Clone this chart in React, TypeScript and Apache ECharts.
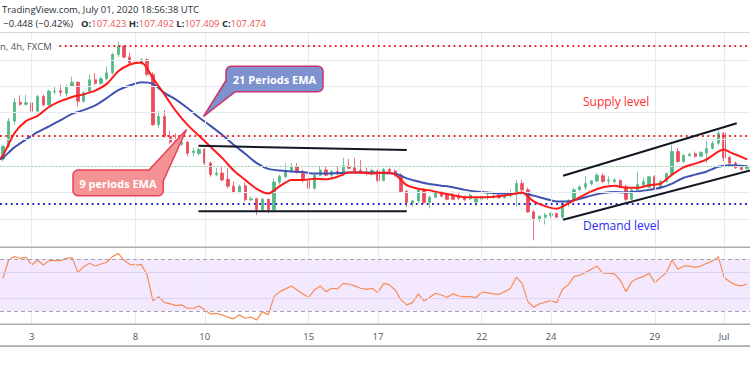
import React, { useEffect, useRef } from "react";
import * as echarts from "echarts";

const FONT = "'Open Sans', 'Noto Sans', sans-serif";

// x-axis day labels and the bar index where each trading day starts (4h bars)
const dayLabels = ["3", "8", "10", "15", "17", "22", "24", "29", "Jul"];
const dayLabelIndex = [5, 23, 35, 53, 65, 83, 95, 113, 125];

// 4h candles (USD/JPY, FXCM)
const open = [
  107.61, 107.85, 108.33, 108.69, 108.65, 108.68, 108.52, 108.80, 108.64, 108.89,
  108.91, 108.86, 109.00, 109.07, 108.71, 108.90, 109.12, 109.05, 109.14, 109.25,
  109.60, 109.76, 109.55, 109.46, 109.43, 109.50, 109.22, 108.26, 108.42, 108.04,
  107.95, 107.89, 107.93, 107.73, 107.71, 107.79, 107.53, 107.31, 107.34, 107.22,
  107.09, 106.97, 107.10, 106.83, 106.85, 106.64, 106.84, 106.64, 107.17, 107.27,
  107.38, 107.46, 107.33, 107.20, 107.05, 107.30, 107.40, 107.30, 107.37, 107.32,
  107.47, 107.44, 107.39, 107.36, 107.33, 107.38, 107.20, 107.41, 107.38, 107.30,
  106.99, 106.77, 106.81, 107.02, 106.78, 106.88, 106.97, 106.93, 106.92, 106.90,
  106.88, 106.85, 106.79, 106.84, 106.89, 106.89, 106.91, 106.87, 106.91, 106.97,
  107.14, 107.02, 106.60, 106.46, 106.50, 106.53, 106.57, 106.50, 106.76, 106.82,
  107.02, 107.07, 107.13, 107.19, 107.29, 107.19, 107.18, 107.20, 107.08, 106.84,
  107.02, 107.11, 107.07, 107.27, 107.06, 107.18, 107.32, 107.75, 107.56, 107.67,
  107.71, 107.66, 107.72, 107.81, 107.91, 108.10, 107.64, 107.53, 107.45, 107.423,
];
const close = [
  107.85, 108.33, 108.69, 108.65, 108.68, 108.52, 108.80, 108.64, 108.90, 108.90,
  108.88, 108.99, 109.07, 108.71, 108.87, 109.12, 109.05, 109.14, 109.25, 109.60,
  109.76, 109.55, 109.44, 109.43, 109.50, 109.22, 108.26, 108.42, 108.04, 107.93,
  107.91, 107.93, 107.72, 107.76, 107.79, 107.53, 107.31, 107.34, 107.21, 107.09,
  106.97, 107.09, 106.83, 106.85, 106.64, 106.84, 106.64, 107.17, 107.28, 107.38,
  107.46, 107.35, 107.20, 107.05, 107.30, 107.40, 107.30, 107.37, 107.32, 107.48,
  107.43, 107.38, 107.35, 107.34, 107.39, 107.20, 107.41, 107.37, 107.29, 106.99,
  106.78, 106.81, 107.02, 106.78, 106.88, 106.96, 106.90, 106.84, 106.84, 106.86,
  106.83, 106.92, 106.85, 106.90, 106.90, 106.90, 106.87, 106.92, 106.97, 107.14,
  107.02, 106.60, 106.45, 106.51, 106.54, 106.57, 106.50, 106.76, 106.82, 107.02,
  107.08, 107.14, 107.19, 107.30, 107.18, 107.21, 107.21, 107.08, 106.84, 107.02,
  107.12, 107.18, 107.27, 107.06, 107.18, 107.33, 107.75, 107.56, 107.68, 107.70,
  107.66, 107.73, 107.81, 107.91, 108.10, 107.63, 107.53, 107.44, 107.41, 107.474,
];
const low = [
  107.56, 107.82, 108.26, 108.62, 108.63, 108.42, 108.47, 108.61, 108.61, 108.84,
  108.80, 108.80, 108.98, 108.61, 108.68, 108.88, 109.02, 109.02, 109.11, 109.22,
  109.55, 109.53, 109.41, 109.40, 109.40, 109.18, 108.24, 108.20, 108.01, 107.90,
  107.88, 107.86, 107.66, 107.66, 107.68, 107.50, 107.27, 107.28, 107.18, 107.05,
  106.95, 106.95, 106.80, 106.81, 106.54, 106.62, 106.58, 106.62, 107.12, 107.24,
  107.34, 107.33, 107.16, 107.02, 107.02, 107.28, 107.28, 107.22, 107.30, 107.28,
  107.41, 107.34, 107.33, 107.29, 107.29, 107.16, 107.18, 107.34, 107.27, 106.96,
  106.70, 106.70, 106.77, 106.75, 106.67, 106.86, 106.88, 106.82, 106.82, 106.83,
  106.81, 106.83, 106.72, 106.80, 106.83, 106.85, 106.85, 106.85, 106.87, 106.70,
  106.99, 106.58, 106.06, 106.41, 106.36, 106.48, 106.48, 106.47, 106.70, 106.79,
  107.00, 107.02, 107.10, 107.16, 107.15, 107.12, 107.14, 107.05, 106.80, 106.82,
  107.01, 107.09, 107.05, 107.04, 107.04, 107.16, 107.29, 107.53, 107.53, 107.66,
  107.63, 107.65, 107.53, 107.79, 107.88, 107.56, 107.50, 107.42, 107.39, 107.409,
];
const high = [
  107.87, 108.39, 108.77, 108.82, 108.83, 108.71, 108.83, 108.84, 108.93, 108.99,
  109.03, 109.03, 109.18, 109.09, 108.90, 109.22, 109.25, 109.18, 109.37, 109.63,
  109.85, 109.77, 109.63, 109.50, 109.53, 109.53, 109.26, 108.52, 108.54, 108.14,
  108.10, 107.99, 107.95, 107.82, 107.82, 107.82, 107.56, 107.44, 107.47, 107.44,
  107.18, 107.12, 107.16, 106.90, 106.87, 106.87, 106.86, 107.24, 107.31, 107.52,
  107.53, 107.53, 107.41, 107.28, 107.34, 107.47, 107.47, 107.40, 107.47, 107.63,
  107.61, 107.63, 107.59, 107.44, 107.42, 107.41, 107.44, 107.44, 107.41, 107.34,
  107.02, 106.83, 107.05, 107.05, 106.91, 106.99, 107.00, 106.97, 106.99, 106.96,
  106.91, 106.95, 106.87, 106.93, 106.99, 106.96, 106.95, 106.95, 107.02, 107.21,
  107.21, 107.06, 106.64, 106.54, 106.58, 106.60, 106.59, 106.78, 106.84, 107.06,
  107.10, 107.28, 107.21, 107.34, 107.34, 107.28, 107.25, 107.22, 107.12, 107.06,
  107.37, 107.25, 107.28, 107.30, 107.21, 107.35, 107.88, 107.82, 107.70, 107.73,
  107.75, 107.76, 107.95, 107.95, 108.15, 108.12, 107.67, 107.56, 107.48, 107.492,
];

// EMA values read at [bar index, price]
const ema9 = [
  [-0.5, 107.62], [0, 107.67], [2, 108.10], [4, 108.33], [6, 108.43], [8, 108.60], [10, 108.71],
  [12, 108.79], [14, 108.84], [16, 108.91], [18, 109.04], [20, 109.28], [22, 109.41], [24, 109.45],
  [26, 109.15], [28, 108.84], [30, 108.52], [32, 108.26], [34, 108.05], [36, 107.84], [38, 107.63],
  [40, 107.39], [42, 107.21], [44, 107.04], [46, 106.95], [48, 107.09], [50, 107.21], [52, 107.21],
  [54, 107.23], [56, 107.22], [58, 107.27], [60, 107.35], [62, 107.35], [64, 107.33], [66, 107.35],
  [68, 107.31], [70, 107.11], [72, 107.04], [74, 107.01], [76, 106.96], [78, 106.92], [80, 106.88],
  [82, 106.88], [84, 106.88], [86, 106.90], [88, 106.93], [90, 106.97], [92, 106.80], [94, 106.71],
  [96, 106.66], [98, 106.76], [100, 106.88], [102, 106.99], [104, 107.07], [106, 107.10], [108, 107.06],
  [110, 107.06], [112, 107.11], [114, 107.14], [116, 107.31], [118, 107.45], [120, 107.52], [122, 107.60],
  [124, 107.75], [125, 107.79], [126, 107.74], [128, 107.65], [129, 107.60],
];
const ema21 = [
  [-0.5, 107.60], [0, 107.63], [2, 107.83], [4, 107.98], [6, 108.12], [8, 108.23], [10, 108.35],
  [12, 108.47], [14, 108.54], [16, 108.63], [18, 108.77], [20, 108.92], [22, 109.01], [24, 109.07],
  [26, 109.04], [28, 108.87], [30, 108.74], [32, 108.58], [34, 108.40], [36, 108.24], [38, 108.07],
  [40, 107.88], [42, 107.71], [44, 107.53], [46, 107.42], [48, 107.39], [50, 107.37], [52, 107.36],
  [54, 107.33], [56, 107.33], [58, 107.34], [60, 107.35], [62, 107.35], [64, 107.35], [66, 107.34],
  [68, 107.33], [70, 107.24], [72, 107.18], [74, 107.13], [76, 107.10], [78, 107.07], [80, 107.02],
  [82, 106.99], [84, 106.97], [86, 106.95], [88, 106.95], [90, 106.96], [92, 106.91], [94, 106.85],
  [96, 106.80], [98, 106.80], [100, 106.85], [102, 106.91], [104, 106.96], [106, 106.98], [108, 106.97],
  [110, 106.99], [112, 107.02], [114, 107.06], [116, 107.14], [118, 107.25], [120, 107.31], [122, 107.37],
  [124, 107.46], [126, 107.49], [128, 107.48], [129, 107.47],
];

// RSI (14) per bar
const rsi = [
  55.3, 69.5, 72.1, 70.8, 71.5, 65.6, 69.5, 65.6, 69.0, 69.0,
  69.0, 70.8, 71.3, 59.9, 64.3, 66.9, 64.8, 66.4, 67.7, 72.1,
  74.6, 69.0, 66.1, 65.6, 65.9, 57.9, 38.0, 41.1, 36.5, 35.5,
  34.2, 34.7, 32.1, 32.1, 33.9, 30.8, 27.7, 28.2, 27.0, 25.2,
  23.9, 27.0, 24.4, 25.2, 23.1, 29.5, 27.0, 41.1, 45.0, 47.1,
  49.4, 46.3, 43.2, 40.6, 46.3, 49.4, 45.0, 47.6, 47.1, 51.4,
  50.7, 49.4, 47.6, 46.8, 47.6, 44.2, 51.4, 50.2, 46.3, 38.6,
  34.7, 36.5, 43.2, 37.8, 40.6, 43.7, 42.4, 40.6, 43.2, 41.6,
  41.1, 41.1, 40.4, 44.5, 44.2, 43.2, 42.9, 45.0, 47.6, 56.1,
  51.4, 37.3, 32.9, 35.5, 36.8, 38.0, 36.5, 46.8, 50.2, 56.6,
  57.9, 59.9, 62.3, 64.8, 59.2, 59.2, 58.7, 54.0, 45.0, 52.7,
  55.3, 56.6, 59.2, 52.0, 55.8, 59.7, 69.5, 62.3, 64.8, 64.8,
  63.8, 64.8, 66.9, 68.7, 72.1, 56.1, 52.7, 50.2, 49.4, 50.9,
];

// horizontal levels
const supplyLevels = [109.756, 108.052];
const demandLevel = 106.756;
const lastClose = 107.474;
const priceGridLevels = [109.5, 108.99, 108.5, 107.99, 107.47, 106.97, 106.46];
const rsiGridLevels = [60, 40];
const rsiBands = [70, 30];

// drawn trend lines: [bar index, price] end points
const trendLines = [
  [[33.9, 107.86], [70.0, 107.78]],
  [[33.9, 106.61], [70.0, 106.61]],
  [[97.1, 107.29], [127.2, 108.29]],
  [[97.1, 106.45], [129.5, 107.39]],
];

function buildOption() {
  const N = open.length;
  const categories = open.map((_, i) => String(i));
  const labelAt: Record<number, string> = {};
  dayLabelIndex.forEach((idx, k) => (labelAt[idx] = dayLabels[k]));
  const gridLine = { color: "#e6ebf2", width: 1, type: "solid" };
  const candles = open.map((o, i) => [o, close[i], low[i], high[i]]);

  const up = "#53b987";
  const down = "#eb4d5c";

  return {
    animation: false,
    backgroundColor: "#ffffff",
    grid: [
      { left: 0, right: 0, top: 33, height: 213 },
      { left: 0, right: 0, top: 247.7, height: 76.2 },
    ],
    xAxis: [
      { type: "category", gridIndex: 0, data: categories, show: false },
      {
        type: "category",
        gridIndex: 1,
        data: categories,
        axisLine: { show: false },
        axisTick: { show: false },
        splitLine: { show: false },
        axisLabel: {
          interval: (i: number) => labelAt[i] !== undefined,
          formatter: (_v: string, i: number) => labelAt[i] ?? "",
          color: "#50535e",
          fontSize: 9.5,
          fontFamily: FONT,
          margin: 8,
        },
      },
      { type: "value", gridIndex: 0, min: -0.5, max: N - 0.5, show: false },
    ],
    yAxis: [
      { type: "value", gridIndex: 0, min: 105.95, max: 110.01, show: false },
      { type: "value", gridIndex: 1, min: 20, max: 79, show: false },
    ],
    series: [
      {
        type: "line",
        name: "grid",
        xAxisIndex: 0,
        yAxisIndex: 0,
        data: [],
        z: 1,
        silent: true,
        markLine: {
          silent: true,
          symbol: ["none", "none"],
          label: { show: false },
          lineStyle: gridLine,
          data: [
            ...dayLabelIndex.map((i) => ({ xAxis: i })),
            ...priceGridLevels.map((v) => ({ yAxis: v })),
          ],
        },
      },
      {
        type: "line",
        name: "rsiBand",
        xAxisIndex: 1,
        yAxisIndex: 1,
        data: [],
        z: 1,
        silent: true,
        markArea: {
          silent: true,
          itemStyle: { color: "#f3e8fd" },
          data: [[{ yAxis: rsiBands[1] }, { yAxis: rsiBands[0] }]],
        },
      },
      {
        type: "line",
        name: "rsiGrid",
        xAxisIndex: 1,
        yAxisIndex: 1,
        data: [],
        z: 2,
        silent: true,
        markLine: {
          silent: true,
          symbol: ["none", "none"],
          label: { show: false },
          data: [
            ...dayLabelIndex.map((i) => ({ xAxis: i, lineStyle: gridLine })),
            ...rsiGridLevels.map((v) => ({ yAxis: v, lineStyle: { color: "#dcd3f2", width: 1, type: "solid" } })),
            ...rsiBands.map((v) => ({ yAxis: v, lineStyle: { color: "#a3a6af", width: 1, type: [4, 3] } })),
          ],
        },
      },
      {
        type: "candlestick",
        name: "USDJPY",
        xAxisIndex: 0,
        yAxisIndex: 0,
        data: candles,
        barWidth: 2.8,
        z: 3,
        itemStyle: { color: up, color0: down, borderColor: up, borderColor0: down, borderWidth: 0.8 },
      },
      {
        type: "line",
        name: "EMA 21",
        xAxisIndex: 2,
        yAxisIndex: 0,
        data: ema21,
        showSymbol: false,
        smooth: 0.25,
        lineStyle: { color: "#4152b0", width: 2 },
        z: 4,
      },
      {
        type: "line",
        name: "EMA 9",
        xAxisIndex: 2,
        yAxisIndex: 0,
        data: ema9,
        showSymbol: false,
        smooth: 0.25,
        lineStyle: { color: "#ff1a1a", width: 2 },
        z: 5,
      },
      {
        type: "line",
        name: "levels",
        xAxisIndex: 0,
        yAxisIndex: 0,
        data: [],
        z: 6,
        silent: true,
        markLine: {
          silent: true,
          symbol: ["none", "none"],
          label: { show: false },
          data: [
            ...supplyLevels.map((v) => ({ yAxis: v, lineStyle: { color: "#f01e1e", width: 1.8, type: [1.8, 3.6] } })),
            { yAxis: demandLevel, lineStyle: { color: "#1f1fdc", width: 1.8, type: [1.8, 3.6] } },
            { yAxis: lastClose, lineStyle: { color: "#8fd49c", width: 1.2, type: [1.5, 2] } },
          ],
        },
      },
      ...trendLines.map((pts, k) => ({
        type: "line",
        name: "trend" + k,
        xAxisIndex: 2,
        yAxisIndex: 0,
        data: pts,
        showSymbol: false,
        clip: false,
        silent: true,
        lineStyle: { color: "#131722", width: 2 },
        z: 7,
      })),
      {
        type: "line",
        name: "RSI",
        xAxisIndex: 1,
        yAxisIndex: 1,
        data: rsi,
        showSymbol: false,
        lineStyle: { color: "#f98b55", width: 1.2 },
        z: 4,
      },
    ],
    graphic: [
      { type: "rect", shape: { x: 0, y: 32, width: 750, height: 1 }, style: { fill: "#d6d8de" }, z: 90, silent: true },
      { type: "rect", shape: { x: 0, y: 246.4, width: 750, height: 1.6 }, style: { fill: "#a9abb2" }, z: 90, silent: true },
      { type: "rect", shape: { x: 0, y: 323.5, width: 750, height: 1.6 }, style: { fill: "#a9abb2" }, z: 90, silent: true },
      { type: "rect", shape: { x: 0, y: 345.3, width: 750, height: 1.6 }, style: { fill: "#a9abb2" }, z: 90, silent: true },
      {
        type: "text",
        x: 2,
        y: 9,
        z: 90,
        style: { text: "TradingView.com, July 01, 2020 18:56:38 UTC", fill: "#2a2e39", fontSize: 9.5, fontFamily: FONT, verticalAlign: "middle" },
      },
      {
        type: "text",
        x: 3.3,
        y: 23.3,
        z: 90,
        style: { text: "−0.448 (−0.42%)", fill: "#2a2e39", fontSize: 9.5, fontFamily: FONT, verticalAlign: "middle" },
      },
      {
        type: "text",
        x: 81,
        y: 23.3,
        z: 90,
        style: {
          text: "{b|O:}{r|107.423} {b|H:}{r|107.492} {b|L:}{r|107.409} {b|C:}{r|107.474}",
          fontSize: 9.5,
          fontFamily: FONT,
          verticalAlign: "middle",
          rich: {
            b: { fill: "#2a2e39", fontWeight: "bold", fontSize: 9.5, fontFamily: FONT },
            r: { fill: "#ef5350", fontSize: 9.5, fontFamily: FONT },
          },
        },
      },
      { type: "rect", shape: { x: 0, y: 40, width: 56, height: 13 }, style: { fill: "#ffffff" }, z: 89, silent: true },
      {
        type: "text",
        x: 0,
        y: 46.5,
        z: 90,
        style: { text: "n, 4h, FXCM", fill: "#50535e", fontSize: 9.5, fontFamily: FONT, verticalAlign: "middle" },
      },
      {
        type: "text",
        x: 583,
        y: 101,
        z: 90,
        style: { text: "Supply level", fill: "#ff2d2d", fontSize: 12, fontFamily: FONT, verticalAlign: "middle" },
      },
      {
        type: "text",
        x: 583,
        y: 225.5,
        z: 90,
        style: { text: "Demand level", fill: "#2b2bf0", fontSize: 12, fontFamily: FONT, verticalAlign: "middle" },
      },
      // 21 Periods EMA callout
      { type: "rect", shape: { x: 226, y: 66.3, width: 97, height: 25.5, r: 5 }, style: { fill: "#7f92d0", stroke: "#c8336e", lineWidth: 1.5 }, z: 95 },
      { type: "polygon", shape: { points: [[226, 80.5], [203.5, 116.5], [235, 91.8]] }, style: { fill: "#7f92d0" }, z: 96 },
      { type: "polyline", shape: { points: [[226, 80.5], [203.5, 116.5], [235, 91.8]] }, style: { stroke: "#c8336e", lineWidth: 1.5, fill: null }, z: 97 },
      {
        type: "text",
        x: 274.5,
        y: 79,
        z: 98,
        style: { text: "21 Periods EMA", fill: "#ffffff", fontSize: 11, fontWeight: "bold", fontFamily: FONT, align: "center", verticalAlign: "middle" },
      },
      // 9 periods EMA callout
      { type: "rect", shape: { x: 73, y: 170, width: 90.3, height: 25.7, r: 5 }, style: { fill: "#f49393", stroke: "#e8405a", lineWidth: 1.5 }, z: 95 },
      { type: "polygon", shape: { points: [[149, 170], [186.5, 129.5], [163.3, 181]] }, style: { fill: "#f49393" }, z: 96 },
      { type: "polyline", shape: { points: [[149, 170], [186.5, 129.5], [163.3, 181]] }, style: { stroke: "#e8405a", lineWidth: 1.5, fill: null }, z: 97 },
      {
        type: "text",
        x: 118,
        y: 183,
        z: 98,
        style: { text: "9 periods EMA", fill: "#ffffff", fontSize: 11, fontWeight: "bold", fontFamily: FONT, align: "center", verticalAlign: "middle" },
      },
    ],
  };
}

export default function App() {
  const ref = useRef<HTMLDivElement>(null);
  useEffect(() => {
    if (!ref.current) return;
    const chart = echarts.init(ref.current, null, { renderer: "svg" });
    chart.setOption(buildOption() as any);
    return () => chart.dispose();
  }, []);
  return (
    <div
      ref={ref}
      style={{ position: "fixed", left: 0, top: 0, width: 750, height: 375, background: "#ffffff" }}
    />
  );
}
